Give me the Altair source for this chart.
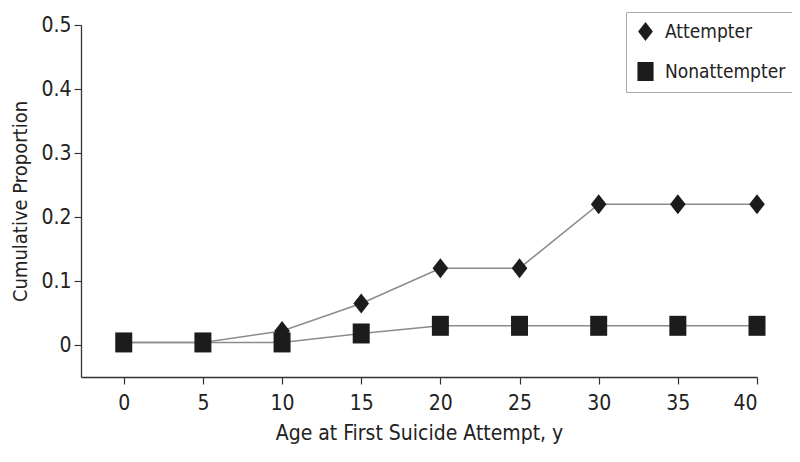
import altair as alt
import pandas as pd

ages = [0, 5, 10, 15, 20, 25, 30, 35, 40]
attempter = [0.004, 0.004, 0.022, 0.065, 0.12, 0.12, 0.22, 0.22, 0.22]
nonattempter = [0.004, 0.004, 0.004, 0.018, 0.03, 0.03, 0.03, 0.03, 0.03]
series = ["Attempter", "Nonattempter"]

rows = []
for a, v in zip(ages, nonattempter):
    rows.append({"age": a, "prop": v, "group": "Nonattempter", "order": 0})
for a, v in zip(ages, attempter):
    rows.append({"age": a, "prop": v, "group": "Attempter", "order": 1})
df = pd.DataFrame(rows)

FONT = "DejaVu Sans Condensed"
diamond = "M-0.78,0L0,-1L0.78,0L0,1Z"
square = "M-0.85,-1H0.85V1H-0.85Z"

x = alt.X("age:Q", scale=alt.Scale(domain=[-2.7, 40], nice=False, zero=False),
          axis=alt.Axis(values=ages, title="Age at First Suicide Attempt, y", grid=False,
                        labelPadding=8, titlePadding=9))
y = alt.Y("prop:Q", scale=alt.Scale(domain=[-0.05, 0.5], nice=False),
          axis=alt.Axis(values=[0, 0.1, 0.2, 0.3, 0.4, 0.5], title="Cumulative Proportion", grid=False,
                        titleFontSize=20, labelPadding=3, titlePadding=10,
                        labelExpr="datum.value == 0 ? '0' : format(datum.value, '.1f')"))

lines = alt.Chart(df).mark_line(color="#8c8c8c", strokeWidth=1.6).encode(
    x=x, y=y, detail="group:N")

points = alt.Chart(df).mark_point(filled=True, opacity=1, color="#1c1c1c").encode(
    x=x, y=y,
    shape=alt.Shape("group:N", scale=alt.Scale(domain=series, range=[diamond, square]),
                    legend=alt.Legend(title=None, orient="none", legendX=545, legendY=-13,
                                      strokeColor="#aaaaaa", fillColor="white", padding=10,
                                      labelFontSize=19, labelFont=FONT, labelColor="#222222",
                                      symbolSize=360, symbolFillColor="#1c1c1c", symbolStrokeColor="#1c1c1c",
                                      symbolStrokeWidth=0, rowPadding=20, labelOffset=10, symbolOffset=0)),
    size=alt.value(400),
    order="order:Q",
)

chart = alt.layer(lines, points).properties(
    width=676, height=352,
    padding={"left": 73, "top": 17, "right": 35, "bottom": 76},
    autosize=alt.AutoSizeParams(type="none"),
).configure_view(stroke=None).configure_axis(
    domainColor="#333333", domainWidth=1.3, tickColor="#333333", tickSize=7, tickWidth=1.2,
    labelFont=FONT, labelFontSize=21, labelColor="#222222",
    titleFont=FONT, titleFontSize=21, titleColor="#222222", titleFontWeight="normal",
)

chart.save("out.html", embed_options={"renderer": "svg", "actions": False})
